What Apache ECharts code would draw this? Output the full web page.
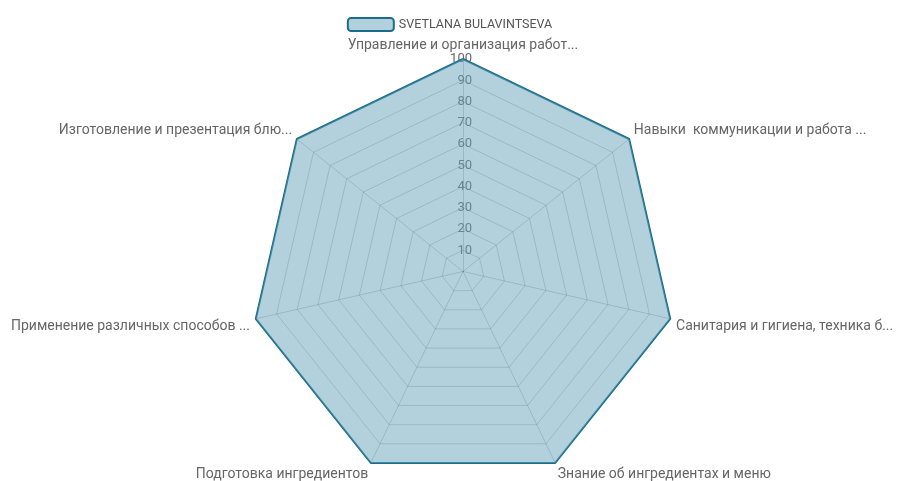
<!DOCTYPE html>
<html><head><meta charset="utf-8">
<script src="https://cdn.jsdelivr.net/npm/echarts@6/dist/echarts.min.js"></script>
<style>html,body{margin:0;padding:0;background:#fff}#c{width:899px;height:481px}</style>
</head><body><div id="c"></div>
<script>
const indicatorNames = [
  "Управление и организация работ...",
  "Изготовление и презентация блю...",
  "Применение различных способов ...",
  "Подготовка ингредиентов",
  "Знание об ингредиентах и меню",
  "Санитария и гигиена, техника б...",
  "Навыки  коммуникации и работа ..."
];
const maxValues = [100, 100, 100, 100, 100, 100, 100];
const seriesName = "SVETLANA BULAVINTSEVA";
const seriesValues = [100, 100, 100, 100, 100, 100, 100];

// rich-text style used to nudge each axis name vertically
const nameNudge = ['top', 'up', 'down', 'down', 'down', 'down', 'up'];

const nameFont = {color: '#666', fontFamily: 'Roboto', fontSize: 14};
const chart = echarts.init(document.getElementById('c'));
chart.setOption({
  animation: false,
  legend: {
    top: 12, left: 'center',
    itemWidth: 46, itemHeight: 13,
    itemGap: 6,
    textStyle: {fontFamily: 'Roboto', fontSize: 12.5, color: '#555'},
    data: [seriesName]
  },
  radar: {
    center: [463, 271.5],
    radius: 212.5,
    startAngle: 90,
    splitNumber: 10,
    shape: 'polygon',
    nameGap: 6,
    axisName: Object.assign({}, nameFont, {
      formatter: (v) => {
        const i = indicatorNames.indexOf(v);
        return '{' + nameNudge[i] + '|' + v + '}';
      },
      rich: {
        top: Object.assign({}, nameFont),
        up: Object.assign({padding: [0, 0, 10, 0]}, nameFont),
        down: Object.assign({padding: [12, 0, 0, 0]}, nameFont)
      }
    }),
    axisLine: {lineStyle: {color: 'rgba(0,0,0,0.2)'}},
    splitLine: {lineStyle: {color: 'rgba(0,0,0,0.2)'}},
    splitArea: {show: false},
    axisLabel: {show: false, color: '#666', fontFamily: 'Roboto', fontSize: 13},
    indicator: indicatorNames.map((n, i) => {
      const o = {name: n, max: maxValues[i], min: 0};
      if (i === 0) o.axisLabel = {show: true, margin: -9, formatter: v => v === 0 ? '' : v};
      return o;
    })
  },
  series: [{
    type: 'radar',
    name: seriesName,
    symbol: 'none',
    lineStyle: {color: '#1a6d8a', width: 2},
    itemStyle: {color: '#b3d1dc', borderColor: '#1a6d8a', borderWidth: 2},
    areaStyle: {color: 'rgba(103,163,185,0.5)', opacity: 1},
    data: [{value: seriesValues, name: seriesName}]
  }]
});
</script></body></html>
